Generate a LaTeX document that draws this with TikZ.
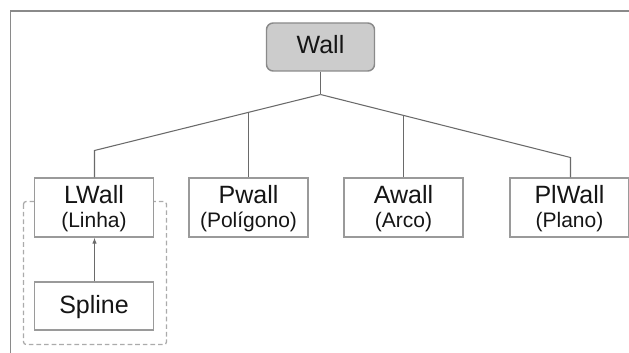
\documentclass[tikz,border=0pt]{standalone}
\usepackage{fontspec}
\setmainfont{Liberation Sans}
\usetikzlibrary{arrows.meta}
\definecolor{framegray}{HTML}{8A8A8A}
\definecolor{boxgray}{HTML}{9A9A9A}
\definecolor{linkgray}{HTML}{6A6A6A}
\definecolor{dashgray}{HTML}{ABABAB}
\definecolor{rootfill}{HTML}{CCCCCC}
\definecolor{ink}{HTML}{151515}
\begin{document}
\begin{tikzpicture}[x=0.75pt,y=-0.75pt,
  classbox/.style={draw=boxgray, line width=1.1pt, fill=white, inner sep=0pt,
    minimum width=89.25pt, minimum height=44.25pt},
  rootbox/.style={draw=framegray, line width=1.1pt, fill=rootfill, rounded corners=5pt,
    inner sep=0pt, minimum width=81pt, minimum height=36pt},
  leafbox/.style={classbox, minimum height=36pt},
  title/.style={anchor=base, inner sep=0pt, text=ink, font=\fontsize{18.75}{22}\selectfont},
  subtitle/.style={anchor=base, inner sep=0pt, text=ink, font=\fontsize{15.75}{19}\selectfont},
  link/.style={draw=linkgray, line width=0.8pt},
  group/.style={draw=dashgray, line width=1pt, dash pattern=on 3.5pt off 2.2pt, rounded corners=2pt}
]
\useasboundingbox (0,0) rectangle (629,353);

% page frame, open to the right and bottom
\draw[framegray, line width=1.2pt] (10.5,353) -- (10.5,10.8) -- (629,10.8);

% dashed group around LWall and Spline
\draw[group] (23.5,201.5) rectangle (166.5,344.5);

% root class
\node[rootbox] (wall) at (320.5,47) {};
\node[title] (wallT) at (320.5,54) {Wall};

% subclasses
\node[classbox] (lwall) at (94,207.5) {};
\node[title] (lwallT) at (94,203) {LWall};
\node[subtitle] (lwallS) at (94,228) {(Linha)};

\node[classbox] (pwall) at (248.5,207.5) {};
\node[title] (pwallT) at (248.5,203) {Pwall};
\node[subtitle] (pwallS) at (248.5,228) {(Polígono)};

\node[classbox] (awall) at (403.5,207.5) {};
\node[title] (awallT) at (403.5,203) {Awall};
\node[subtitle] (awallS) at (403.5,228) {(Arco)};

\node[classbox] (plwall) at (569.5,207.5) {};
\node[title] (plwallT) at (569.5,203) {PlWall};
\node[subtitle] (plwallS) at (569.5,228) {(Plano)};

% spline refining a line wall
\node[leafbox] (spline) at (94,306) {};
\node[title] (splineT) at (94,313) {Spline};

% hierarchy connectors
\coordinate (hub) at (320.5,94.5);
\coordinate (lcorner) at (94.5,150.5);
\coordinate (rcorner) at (570.5,157.5);
\coordinate (pjoin) at (248.5,112.2);
\coordinate (ajoin) at (403.5,115.3);
\draw[link] (wall.south) -- (hub);
\draw[link] (hub) -- (lcorner) -- (lcorner |- lwall.north);
\draw[link] (hub) -- (rcorner) -- (rcorner |- plwall.north);
\draw[link] (pjoin) -- (pjoin |- pwall.north);
\draw[link] (ajoin) -- (ajoin |- awall.north);

\draw[link, -{Latex[length=4.5pt,width=3.5pt]}] (spline.north -| lcorner) -- (lwall.south -| lcorner);
\end{tikzpicture}
\end{document}
